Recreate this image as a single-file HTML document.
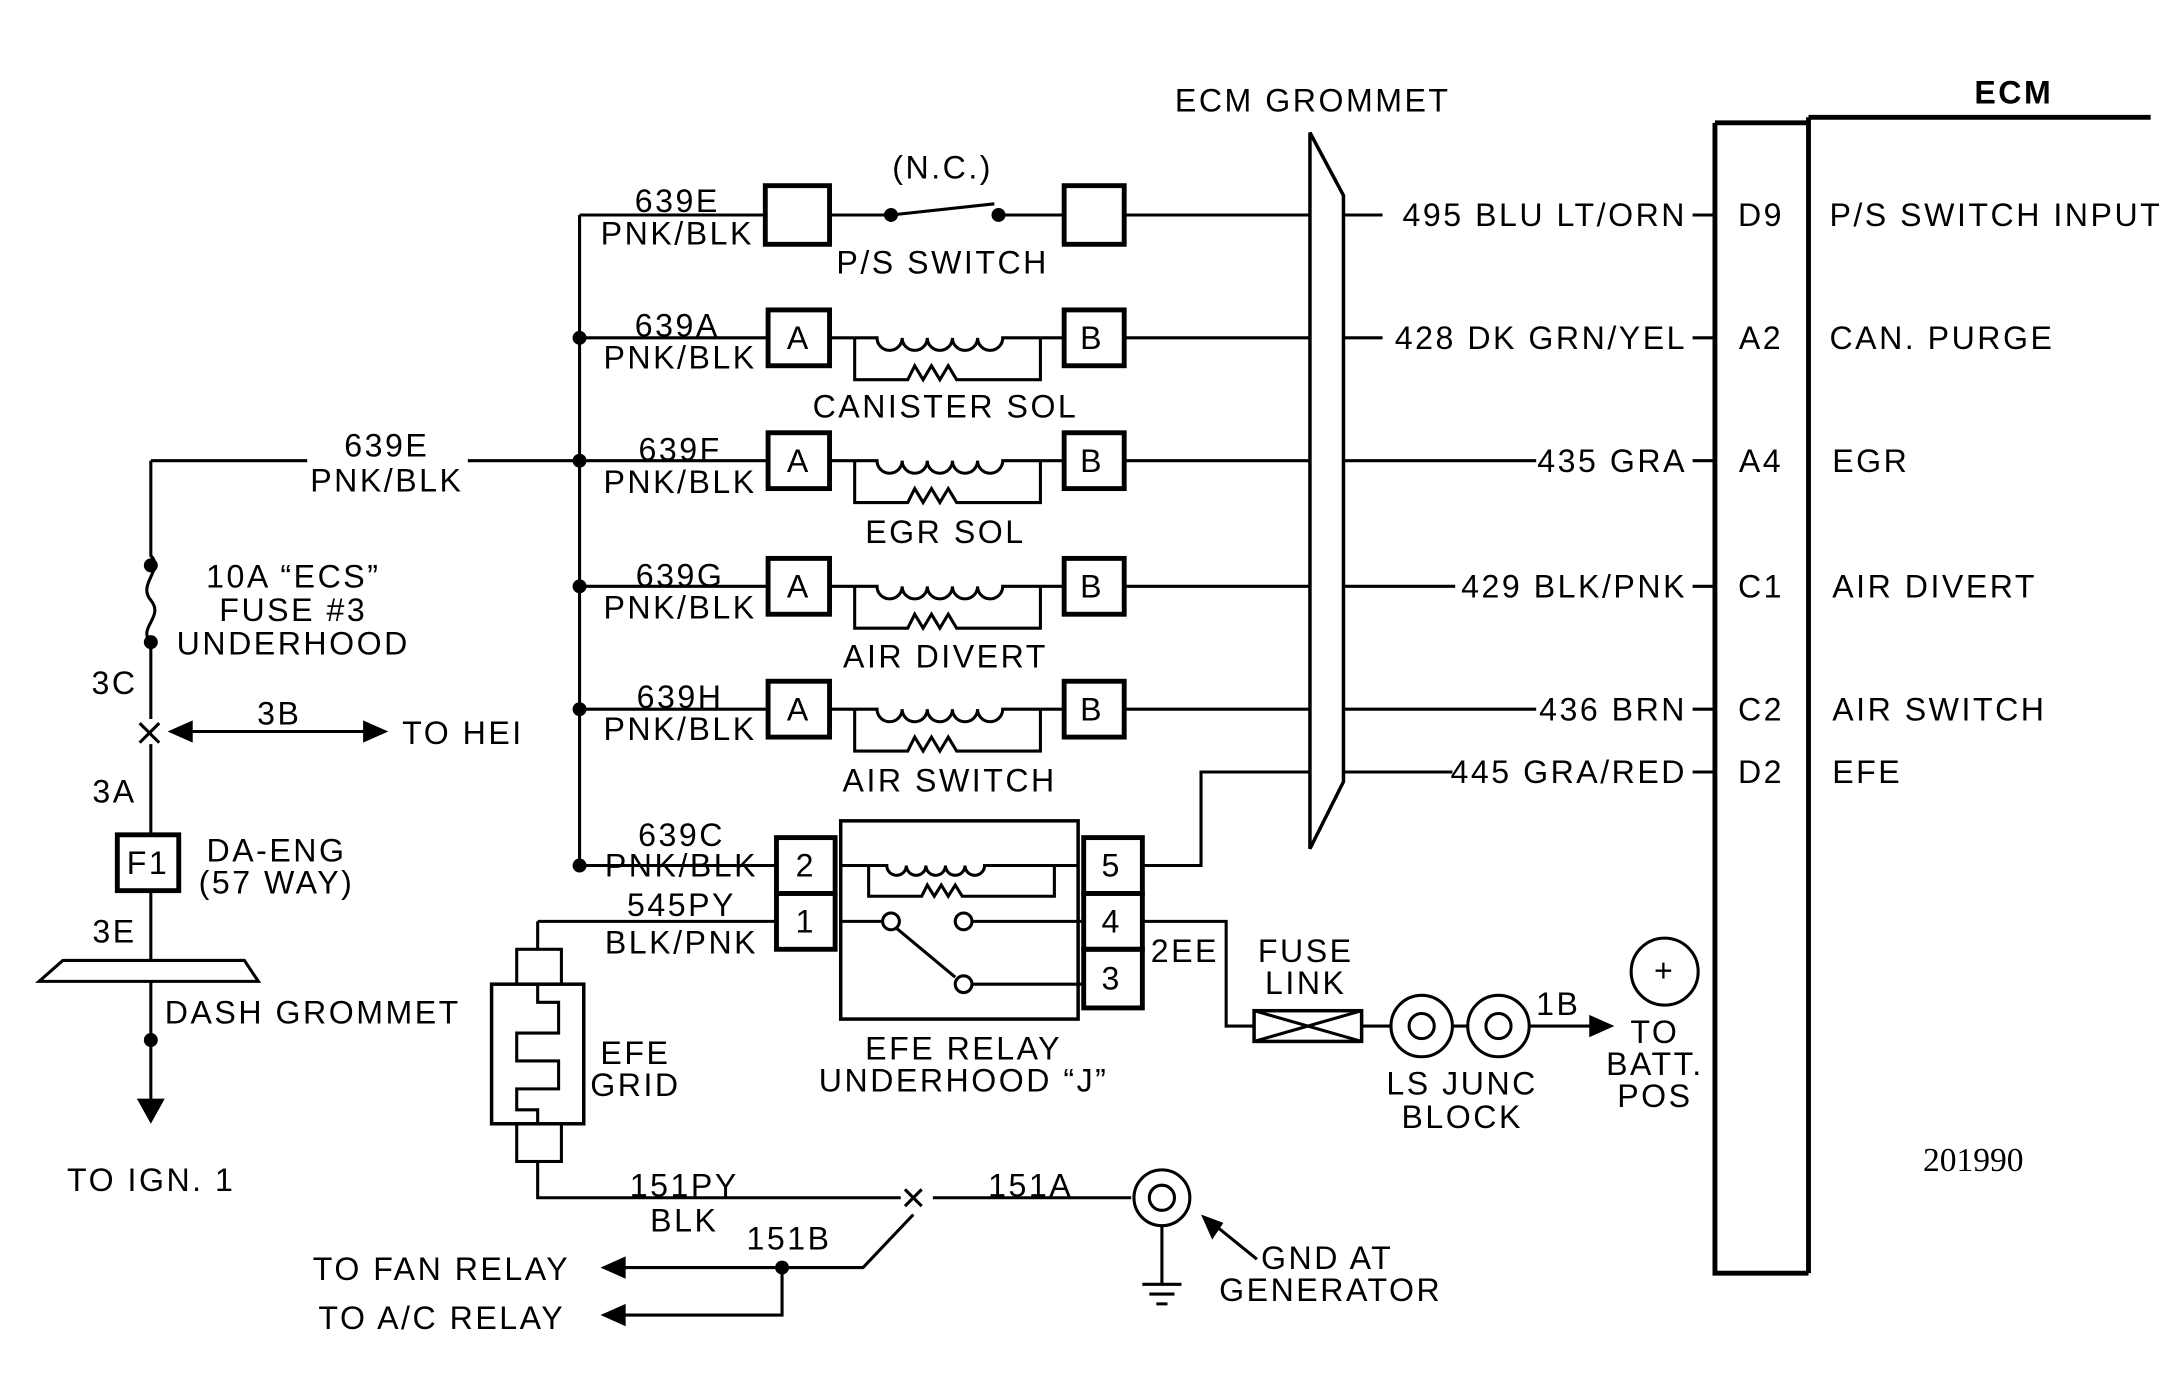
<!DOCTYPE html>
<html><head><meta charset="utf-8"><style>
html,body{margin:0;padding:0;background:#fff;}
svg{display:block;}
text{font-family:"Liberation Sans",sans-serif;font-size:23px;letter-spacing:1.8px;fill:#000;}
</style></head><body>
<svg width="2173" height="1396" viewBox="0 0 1556 1000" preserveAspectRatio="none" xmlns="http://www.w3.org/2000/svg">
<g stroke="#000" stroke-width="2.2" fill="none">
<path d="M1228,88 H1295 M1228,88 V912 H1295 M1295,84 V912 M1295,84 H1540" stroke-width="3.5"/>
<polygon points="938,95 962,140 962,560 938,608" stroke-width="2.5"/>
<path d="M415,154 V620"/>
<path d="M415,154 H548 M594,154 H638 M638,154 L712,146 M715,154 H762 M805,154 H938 M962,154 H990 M1212,154 H1228"/>
<rect x="548" y="133" width="46" height="42" stroke-width="3.5"/>
<rect x="762" y="133" width="43" height="42" stroke-width="3.5"/>
<g id="sol">
<path d="M415,242 H550 M805,242 H938"/>
<rect x="550" y="222" width="44" height="40" stroke-width="3.5"/>
<rect x="762" y="222" width="43" height="40" stroke-width="3.5"/>
<path d="M594,242 H612 M745,242 H762"/>
<path d="M612,242 H628 a9,9 0 0 0 18,0 a9,9 0 0 0 18,0 a9,9 0 0 0 18,0 a9,9 0 0 0 18,0 a9,9 0 0 0 18,0 H745"/>
<path d="M612,242 V272 H650 l5,-10 l6,10 l6,-10 l6,10 l6,-10 l6,10 H745 V242"/>
</g>
<use href="#sol" y="88"/>
<use href="#sol" y="178"/>
<use href="#sol" y="266"/>
<path d="M962,242 H990 M1212,242 H1228 M962,330 H1100 M1212,330 H1228 M962,420 H1042 M1212,420 H1228 M962,508 H1100 M1212,508 H1228 M962,553 H1040 M1212,553 H1228"/>
<path d="M818,620 H860 V553 H938"/>
<rect x="602" y="588" width="170" height="142" stroke-width="2.5"/>
<rect x="556" y="600" width="42" height="40" stroke-width="3.5"/>
<rect x="556" y="640" width="42" height="40" stroke-width="3.5"/>
<rect x="776" y="600" width="42" height="40" stroke-width="3.5"/>
<rect x="776" y="640" width="42" height="40" stroke-width="3.5"/>
<rect x="776" y="680" width="42" height="42" stroke-width="3.5"/>
<path d="M415,620 H556 M602,620 H635 a7,7 0 0 0 14,0 a7,7 0 0 0 14,0 a7,7 0 0 0 14,0 a7,7 0 0 0 14,0 a7,7 0 0 0 14,0 H772"/>
<path d="M622,620 V642 H660 l4,-8 l5,8 l5,-8 l5,8 l5,-8 l5,8 H755 V620"/>
<path d="M602,660 H632 M696,660 H776 M696,705 H776 M642,665 L684,700"/>
<circle cx="638" cy="660" r="6"/><circle cx="690" cy="660" r="6"/><circle cx="690" cy="705" r="6"/>
<path d="M385,660 H556 M385,660 V680"/>
<rect x="370" y="680" width="32" height="25"/>
<rect x="352" y="705" width="66" height="100" stroke-width="2.5"/>
<path d="M385,705 V718 H400 V740 H370 V760 H400 V780 H370 V795 H385 V805"/>
<rect x="370" y="805" width="32" height="27"/>
<path d="M385,832 V858 H645 M668,858 H810"/>
<path d="M648,852 l12,12 M660,852 l-12,12"/>
<circle cx="832" cy="858" r="20"/><circle cx="832" cy="858" r="9"/>
<path d="M832,878 V920 M818,920 H846 M823,927 H841 M828,934 H836"/>
<path d="M900,902 L868,876"/>
<path d="M654,870 L618,908 H440 M560,908 V942 H440"/>
<path d="M818,660 H878 V735 H898 M975,735 H996 M1040,735 H1051 M1095,735 H1140"/>
<rect x="898" y="724" width="77" height="22" stroke-width="2.5"/>
<path d="M898,724 L975,746 M898,746 L975,724"/>
<circle cx="1018" cy="735" r="22"/><circle cx="1018" cy="735" r="9"/>
<circle cx="1073" cy="735" r="22"/><circle cx="1073" cy="735" r="9"/>
<circle cx="1192" cy="696" r="24"/>
<path d="M108,330 H220 M335,330 H415 M108,330 V398 C118,408 98,418 108,430 C118,442 98,450 108,460 V515 M108,533 V598 M108,638 V688 M108,703 V790"/>
<path d="M100,518 l14,14 M114,518 l-14,14"/>
<path d="M130,524 H262"/>
<rect x="84" y="598" width="44" height="40" stroke-width="3.5"/>
<polygon points="28,703 185,703 175,688 45,688"/>
</g>
<g fill="#000">
<circle cx="415" cy="242" r="5"/><circle cx="415" cy="330" r="5"/><circle cx="415" cy="420" r="5"/><circle cx="415" cy="508" r="5"/><circle cx="415" cy="620" r="5"/>
<circle cx="638" cy="154" r="5"/><circle cx="715" cy="154" r="5"/>
<circle cx="108" cy="405" r="5"/><circle cx="108" cy="460" r="5"/><circle cx="108" cy="745" r="5"/>
<circle cx="560" cy="908" r="5"/>
<polygon points="120,524 138,516 138,532"/><polygon points="278,524 260,516 260,532"/>
<polygon points="108,805 98,787 118,787"/>
<polygon points="430,908 448,900 448,916"/><polygon points="430,942 448,934 448,950"/>
<polygon points="1156,735 1138,727 1138,743"/>
<polygon points="860,870 876,876 868,888"/>
</g>
<text x="1442" y="74" font-weight="bold" font-size="25" text-anchor="middle">ECM</text>
<text x="940" y="80" text-anchor="middle">ECM GROMMET</text>
<g text-anchor="middle">
<text x="675" y="128">(N.C.)</text>
<text x="675" y="196">P/S SWITCH</text>
<text x="677" y="299">CANISTER SOL</text>
<text x="677" y="389">EGR SOL</text>
<text x="677" y="478">AIR DIVERT</text>
<text x="680" y="567">AIR SWITCH</text>
<text x="485" y="152">639E</text><text x="485" y="175">PNK/BLK</text>
<text x="485" y="241">639A</text><text x="487" y="264">PNK/BLK</text>
<text x="487" y="330">639F</text><text x="487" y="353">PNK/BLK</text>
<text x="487" y="420">639G</text><text x="487" y="443">PNK/BLK</text>
<text x="487" y="507">639H</text><text x="487" y="530">PNK/BLK</text>
<text x="488" y="606">639C</text><text x="488" y="628">PNK/BLK</text>
<text x="488" y="656">545PY</text><text x="488" y="683">BLK/PNK</text>
<text x="572" y="250">A</text><text x="782" y="250">B</text>
<text x="572" y="338">A</text><text x="782" y="338">B</text>
<text x="572" y="428">A</text><text x="782" y="428">B</text>
<text x="572" y="516">A</text><text x="782" y="516">B</text>
<text x="577" y="628">2</text><text x="577" y="668">1</text>
<text x="796" y="628">5</text><text x="796" y="668">4</text><text x="796" y="709">3</text>
<text x="690" y="759">EFE RELAY</text><text x="690" y="782">UNDERHOOD “J”</text>
<text x="455" y="762">EFE</text><text x="455" y="785">GRID</text>
<text x="935" y="689">FUSE</text><text x="935" y="712">LINK</text>
<text x="1047" y="784">LS JUNC</text><text x="1047" y="808">BLOCK</text>
<text x="1185" y="747">TO</text><text x="1185" y="770">BATT.</text><text x="1185" y="793">POS</text>
<text x="1192" y="703" font-size="16">+</text>
<text x="277" y="327">639E</text><text x="277" y="352">PNK/BLK</text>
<text x="210" y="421">10A “ECS”</text><text x="210" y="445">FUSE #3</text><text x="210" y="469">UNDERHOOD</text>
<text x="200" y="519">3B</text>
<text x="106" y="626">F1</text>
<text x="198" y="617">DA-ENG</text><text x="198" y="640">(57 WAY)</text>
<text x="490" y="857">151PY</text><text x="490" y="882">BLK</text>
<text x="738" y="857">151A</text><text x="565" y="895">151B</text>
<text x="1413" y="839" style="font-family:'Liberation Serif',serif;font-size:24px;letter-spacing:0">201990</text>
</g>
<text x="82" y="497" text-anchor="middle">3C</text>
<text x="82" y="575" text-anchor="middle">3A</text>
<text x="82" y="675" text-anchor="middle">3E</text>
<text x="288" y="533">TO HEI</text>
<text x="118" y="733">DASH GROMMET</text>
<text x="48" y="853">TO IGN. 1</text>
<text x="224" y="917">TO FAN RELAY</text>
<text x="228" y="952">TO A/C RELAY</text>
<text x="903" y="909">GND AT</text><text x="873" y="932">GENERATOR</text>
<text x="824" y="689">2EE</text>
<text x="1100" y="727">1B</text>
<g text-anchor="end">
<text x="1208" y="162">495 BLU LT/ORN</text>
<text x="1208" y="250">428 DK GRN/YEL</text>
<text x="1208" y="338">435 GRA</text>
<text x="1208" y="428">429 BLK/PNK</text>
<text x="1208" y="516">436 BRN</text>
<text x="1208" y="561">445 GRA/RED</text>
</g>
<g text-anchor="middle">
<text x="1261" y="162">D9</text><text x="1261" y="250">A2</text><text x="1261" y="338">A4</text>
<text x="1261" y="428">C1</text><text x="1261" y="516">C2</text><text x="1261" y="561">D2</text>
</g>
<text x="1310" y="162">P/S SWITCH INPUT</text>
<text x="1310" y="250">CAN. PURGE</text>
<text x="1312" y="338">EGR</text>
<text x="1312" y="428">AIR DIVERT</text>
<text x="1312" y="516">AIR SWITCH</text>
<text x="1312" y="561">EFE</text>
</svg>
</body></html>
